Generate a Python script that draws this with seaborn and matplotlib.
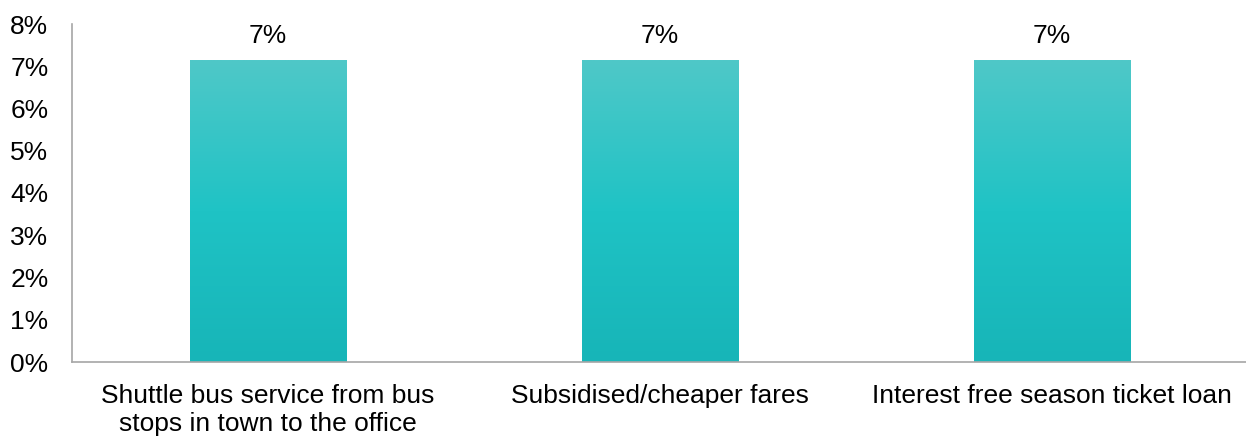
import numpy as np
import pandas as pd
import matplotlib
matplotlib.use("Agg")
import matplotlib.pyplot as plt
import seaborn as sns
from matplotlib.colors import LinearSegmentedColormap

categories = ["Shuttle bus service from bus\nstops in town to the office",
              "Subsidised/cheaper fares",
              "Interest free season ticket loan"]
values = [0.0714, 0.0714, 0.0714]
labels = ["7%", "7%", "7%"]
yticks = [0, 0.01, 0.02, 0.03, 0.04, 0.05, 0.06, 0.07, 0.08]
yticklabels = ["0%", "1%", "2%", "3%", "4%", "5%", "6%", "7%", "8%"]

sns.set_style("white")
plt.rcParams['font.family'] = ['Liberation Sans', 'DejaVu Sans']
plt.rcParams['text.color'] = 'black'
plt.rcParams['xtick.color'] = 'black'
plt.rcParams['ytick.color'] = 'black'

FS = 19

fig = plt.figure(figsize=(12.46, 4.38), dpi=100)
ax = fig.add_axes([72/1246, 1 - 362/438, 1176/1246, (362-24)/438])

df = pd.DataFrame({"cat": categories, "val": values})
sns.barplot(data=df, x="cat", y="val", color="#20C4C6", width=0.4, ax=ax, saturation=1)

cmap = LinearSegmentedColormap.from_list("g", ["#17B5B8", "#1FC3C5", "#4FC8C8"])
grad = np.linspace(0, 1, 256).reshape(-1, 1)
for p in ax.patches:
    x0, y0 = p.get_x(), p.get_y()
    w, h = p.get_width(), p.get_height()
    im = ax.imshow(grad, cmap=cmap, origin="lower", aspect="auto",
                   extent=[x0, x0 + w, y0, y0 + h], zorder=p.get_zorder() + 0.1)
    im.set_clip_path(p)
    p.set_edgecolor("none")

for p, lab in zip(ax.patches, labels):
    ax.text(p.get_x() + p.get_width() / 2, p.get_height() + 0.0030, lab,
            ha="center", va="bottom", fontsize=FS, color="#000000")

ax.set_xlim(-0.5, 2.5)
ax.set_ylim(0, 0.08)
ax.set_yticks(yticks)
ax.set_yticklabels(yticklabels, fontsize=FS)
for t in ax.get_xticklabels():
    t.set_linespacing(1.24)
ax.tick_params(axis="x", labelsize=FS, length=0, pad=15.5, colors="black")
ax.tick_params(axis="y", length=0, pad=17, colors="black")
ax.set_xlabel("")
ax.set_ylabel("")
for s in ["top", "right"]:
    ax.spines[s].set_visible(False)
for s in ["left", "bottom"]:
    ax.spines[s].set_color("#A6A6A6")
    ax.spines[s].set_linewidth(1.2)

fig.savefig("out.png", dpi=100)
